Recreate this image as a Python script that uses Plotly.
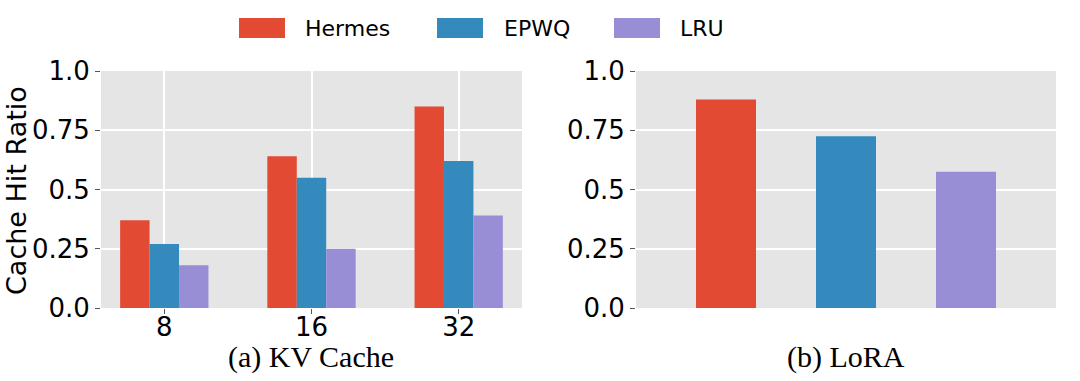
import plotly.graph_objects as go

# data
methods = ["Hermes", "EPWQ", "LRU"]
colors = ["#E24A33", "#348ABD", "#988ED5"]
kv_sizes = ["8", "16", "32"]
kv_hit = {
    "Hermes": [0.37, 0.64, 0.85],
    "EPWQ": [0.27, 0.55, 0.62],
    "LRU": [0.18, 0.25, 0.39],
}
lora_hit = [0.88, 0.725, 0.575]
y_ticks = [0, 0.25, 0.5, 0.75, 1.0]
y_ticktext = ["0.0", "0.25", "0.5", "0.75", "1.0"]

W, H = 1080, 381
SANS = "DejaVu Sans"
SERIF = "Liberation Serif"

fig = go.Figure()

# (a) KV cache, grouped bars
for m, c in zip(methods, colors):
    fig.add_trace(go.Bar(
        x=kv_sizes, y=kv_hit[m], name=m, marker_color=c,
        marker_line_width=0, xaxis="x", yaxis="y", showlegend=False,
    ))

# (b) LoRA, one bar per method
fig.add_trace(go.Bar(
    x=methods, y=lora_hit, marker_color=colors, marker_line_width=0,
    width=0.5, xaxis="x2", yaxis="y2", showlegend=False,
))

axis_y = dict(
    range=[0, 1.0], tickvals=y_ticks, ticktext=y_ticktext,
    showgrid=True, gridcolor="white", gridwidth=1.5, zeroline=False,
    ticks="outside", ticklen=5, tickcolor="#555555",
    tickfont=dict(family=SANS, size=26, color="black"),
    showline=False, automargin=False,
)

fig.update_layout(
    width=W, height=H,
    margin=dict(l=0, r=0, t=0, b=0),
    paper_bgcolor="white", plot_bgcolor="#E5E5E5",
    barmode="group", bargap=0.4, bargroupgap=0,
    xaxis=dict(
        domain=[101 / W, 522 / W], range=[-0.43, 2.43], type="category",
        showgrid=True, gridcolor="white", gridwidth=1.5,
        ticks="outside", ticklen=5, tickcolor="#555555",
        tickfont=dict(family=SANS, size=26, color="black"),
        ticklabelstandoff=-9,
        automargin=False, anchor="y",
    ),
    yaxis=dict(domain=[73 / H, 310 / H], anchor="x", **axis_y),
    xaxis2=dict(
        domain=[636 / W, 1056 / W], range=[-0.75, 2.75], type="category",
        showgrid=False, showticklabels=False, ticks="",
        automargin=False, anchor="y2",
    ),
    yaxis2=dict(domain=[73 / H, 310 / H], anchor="x2", **axis_y),
)

# y axis title
fig.add_annotation(
    x=17 / W, y=(H - 191) / H, xref="paper", yref="paper",
    xanchor="center", yanchor="middle",
    text="Cache Hit Ratio", textangle=-90, showarrow=False,
    font=dict(family=SANS, size=27, color="black"),
)

# panel captions
for text, cx in [("(a) KV Cache", 311), ("(b) LoRA", 846)]:
    fig.add_annotation(
        x=cx / W, y=(H - 357) / H, xref="paper", yref="paper",
        xanchor="center", yanchor="middle",
        text=text, showarrow=False,
        font=dict(family=SERIF, size=30, color="black"),
    )

# legend drawn as patches + labels to match the wide swatches
legend_items = [(239, 303), (437, 502), (614, 678)]
for (px0, tx), m, c in zip(legend_items, methods, colors):
    fig.add_shape(
        type="rect", xref="paper", yref="paper",
        x0=px0 / W, x1=(px0 + 46) / W, y0=(H - 38) / H, y1=(H - 18) / H,
        fillcolor=c, line_width=0,
    )
    fig.add_annotation(
        x=tx / W, y=(H - 28) / H, xref="paper", yref="paper",
        xanchor="left", yanchor="middle",
        text=m, showarrow=False,
        font=dict(family=SANS, size=22, color="black"),
    )

fig.write_html(
    "out.html",
    config={"displayModeBar": False},
    post_script="document.body.style.margin='0';",
)
